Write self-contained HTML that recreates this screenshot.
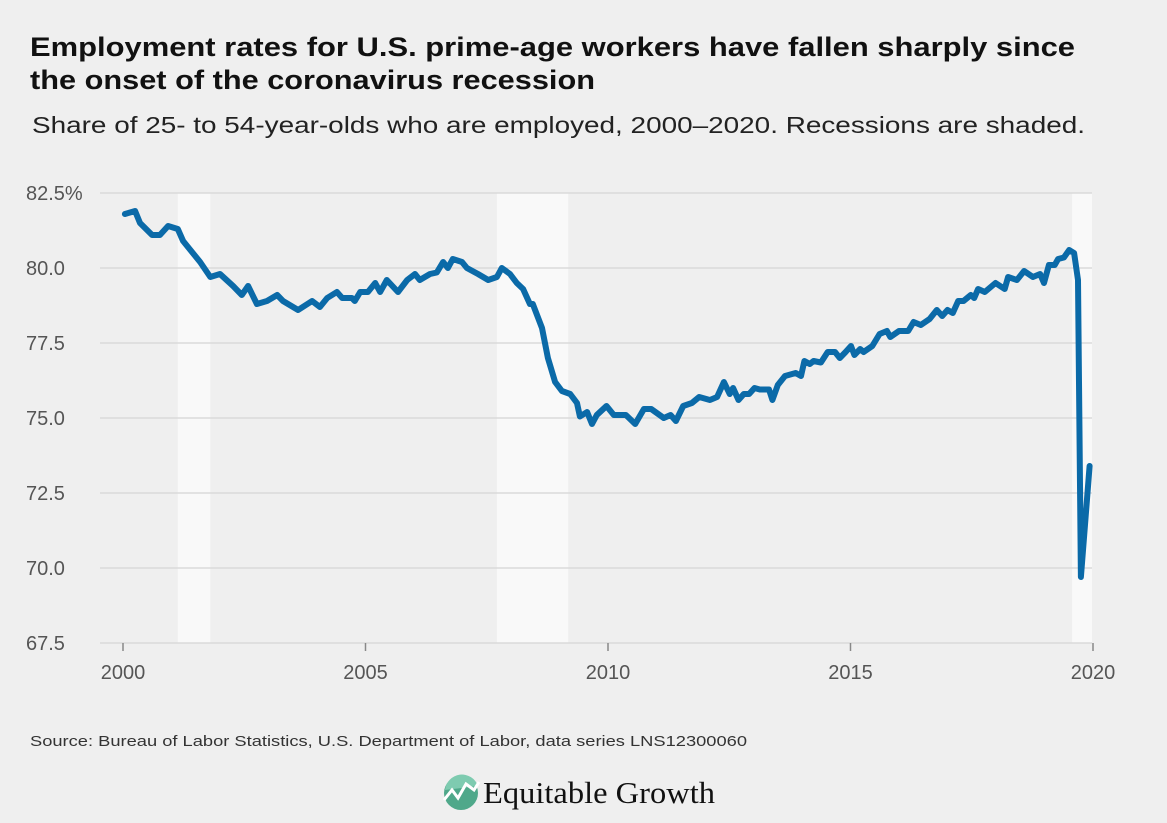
<!DOCTYPE html>
<html><head><meta charset="utf-8"><style>
html,body{margin:0;padding:0;background:#efefef;}
svg{display:block;font-family:"Liberation Sans",sans-serif;}
</style></head><body>
<svg width="1167" height="823" viewBox="0 0 1167 823">
<rect x="0" y="0" width="1167" height="823" fill="#efefef"/>
<text x="30" y="56" font-size="27" font-weight="bold" fill="#111" textLength="1045" lengthAdjust="spacingAndGlyphs">Employment rates for U.S. prime-age workers have fallen sharply since</text>
<text x="30" y="89" font-size="27" font-weight="bold" fill="#111" textLength="565" lengthAdjust="spacingAndGlyphs">the onset of the coronavirus recession</text>
<text x="32" y="133" font-size="23" fill="#222" textLength="1053" lengthAdjust="spacingAndGlyphs">Share of 25- to 54-year-olds who are employed, 2000–2020. Recessions are shaded.</text>
<g id="recessions"></g>
<g id="grid"></g>
<g id="xticks"></g>
<path id="line" fill="none" stroke="#0b6aa8" stroke-width="6" stroke-linejoin="round" stroke-linecap="round"/>
<text x="30" y="746" font-size="15" fill="#333" textLength="717" lengthAdjust="spacingAndGlyphs">Source: Bureau of Labor Statistics, U.S. Department of Labor, data series LNS12300060</text>
<g>
<circle cx="461" cy="793" r="17" fill="#4fa88a"/>
<path d="M445 790 A17 17 0 0 1 478 786 L445 790Z" fill="#7ecbb0"/>
<polyline points="444,800 452,790 458,798 466,784 474,790 479,782" fill="none" stroke="#fff" stroke-width="3"/>
<text x="483" y="803" font-family="'Liberation Serif',serif" font-size="31" fill="#111" textLength="232" lengthAdjust="spacingAndGlyphs">Equitable Growth</text>
</g>
</svg>
<script>
const years=[0.04,0.25,0.35,0.6,0.76,0.93,1.13,1.24,1.44,1.59,1.8,2.0,2.27,2.45,2.58,2.76,2.97,3.18,3.3,3.61,3.9,4.06,4.21,4.41,4.52,4.72,4.78,4.89,5.05,5.2,5.3,5.44,5.67,5.86,6.02,6.12,6.33,6.47,6.6,6.7,6.8,6.99,7.09,7.32,7.53,7.71,7.81,7.98,8.12,8.25,8.39,8.45,8.64,8.76,8.91,9.05,9.22,9.36,9.42,9.57,9.67,9.77,9.97,10.12,10.37,10.56,10.74,10.89,11.15,11.29,11.4,11.55,11.73,11.88,12.1,12.25,12.39,12.51,12.58,12.69,12.8,12.91,13.02,13.13,13.32,13.39,13.5,13.65,13.87,13.98,14.05,14.16,14.24,14.39,14.53,14.68,14.78,14.9,15.01,15.08,15.2,15.27,15.45,15.6,15.75,15.82,16.0,16.19,16.3,16.45,16.63,16.78,16.89,17.0,17.11,17.22,17.33,17.48,17.55,17.63,17.77,17.99,18.18,18.25,18.43,18.58,18.76,18.91,18.99,19.09,19.21,19.28,19.4,19.51,19.61,19.69,19.75,19.93];
const rates=[81.8,81.9,81.5,81.1,81.1,81.4,81.3,80.9,80.5,80.2,79.7,79.8,79.4,79.1,79.4,78.8,78.9,79.1,78.9,78.6,78.9,78.7,79.0,79.2,79.0,79.0,78.9,79.2,79.2,79.5,79.2,79.6,79.2,79.6,79.8,79.6,79.8,79.85,80.2,80.0,80.3,80.2,80.0,79.8,79.6,79.7,80.0,79.8,79.5,79.3,78.8,78.8,78.0,77.0,76.2,75.9,75.8,75.5,75.05,75.2,74.8,75.1,75.4,75.1,75.1,74.8,75.3,75.3,75.0,75.1,74.9,75.4,75.5,75.7,75.6,75.7,76.2,75.8,76.0,75.6,75.8,75.8,76.0,75.95,75.95,75.6,76.1,76.4,76.5,76.4,76.9,76.8,76.9,76.85,77.2,77.2,77.0,77.2,77.4,77.1,77.3,77.2,77.4,77.8,77.9,77.7,77.9,77.9,78.2,78.1,78.3,78.6,78.4,78.6,78.5,78.9,78.9,79.1,79.0,79.3,79.2,79.5,79.3,79.7,79.6,79.9,79.7,79.8,79.5,80.1,80.1,80.3,80.35,80.6,80.5,79.6,69.7,73.4];
const yTicks=[67.5,70,72.5,75,77.5,80,82.5];
const yTickLabels=["67.5","70.0","72.5","75.0","77.5","80.0","82.5%"];
const xTicks=[0,5,10,15,20];
const xTickLabels=["2000","2005","2010","2015","2020"];
const recessionStarts=[1.13,7.71,19.57];
const recessionEnds=[1.8,9.18,19.98];
const NS="http://www.w3.org/2000/svg";
function xs(v){return 123+v*48.5;}
function ys(v){return 193+(82.5-v)*30;}
function mk(tag,attrs,parent){const e=document.createElementNS(NS,tag);for(const k in attrs)e.setAttribute(k,attrs[k]);parent.appendChild(e);return e;}
const rg=document.getElementById('recessions');
recessionStarts.forEach((s,i)=>{
 const r=mk('rect',{x:xs(s),y:ys(82.5),width:xs(recessionEnds[i])-xs(s),height:ys(67.5)-ys(82.5),fill:'#f9f9f9'},rg);
 
 
});
const gg=document.getElementById('grid');
yTicks.forEach((t,i)=>{
 const l=mk('line',{x1:100,x2:1092,y1:ys(t),y2:ys(t),stroke:'#dadada','stroke-width':1.5},gg);
 
 
 const tx=mk('text',{x:26,y:ys(t)+7,'font-size':20,fill:'#555'},gg);
 tx.textContent=yTickLabels[i];
 
 
});
const xg=document.getElementById('xticks');
xTicks.forEach((t,i)=>{
 const l=mk('line',{x1:xs(t),x2:xs(t),y1:643,y2:651,stroke:'#888','stroke-width':1.5},xg);
 
 
 const tx=mk('text',{x:xs(t),y:679,'font-size':20,fill:'#555','text-anchor':'middle'},xg);
 tx.textContent=xTickLabels[i];
 
 
});
document.getElementById('line').setAttribute('d',years.map((y,i)=>(i?'L':'M')+xs(y).toFixed(1)+' '+ys(rates[i]).toFixed(1)).join(' '));
</script>
</body></html>
